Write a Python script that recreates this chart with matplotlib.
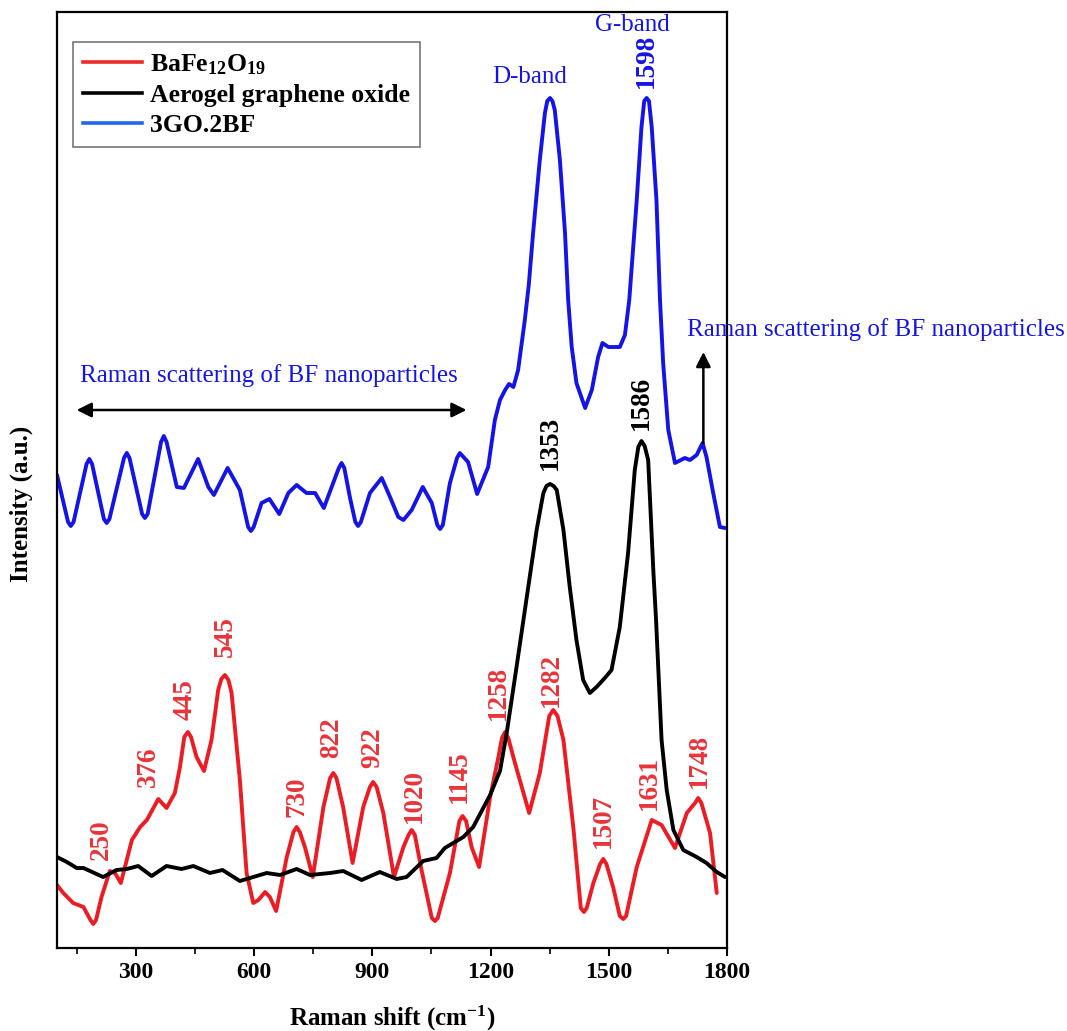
import matplotlib
matplotlib.use("Agg")
import matplotlib.pyplot as plt
from matplotlib.ticker import MultipleLocator

plt.rcParams['font.family'] = ['Liberation Serif', 'DejaVu Serif']
plt.rcParams['mathtext.fontset'] = 'custom'
plt.rcParams['mathtext.rm'] = 'Liberation Serif:bold'
plt.rcParams['mathtext.it'] = 'Liberation Serif:bold'
plt.rcParams['mathtext.bf'] = 'Liberation Serif:bold'

# ---------------- data (Raman shift in cm-1, intensity in a.u.) ----------------
go_bf_x = [100, 128, 135, 142, 175, 182, 189, 219, 226, 233, 270, 277, 284, 316, 323,
           330, 364, 371, 378, 404, 422, 458, 484, 498, 533, 564, 585, 592, 599, 619,
           639, 664, 687, 708, 733, 755, 777, 815, 822, 829, 843, 857, 864, 871, 894,
           924, 945, 966, 979, 1000, 1028, 1051, 1065, 1072, 1079, 1097, 1115, 1122,
           1143, 1166, 1194, 1211, 1224, 1237, 1247, 1258, 1270, 1287, 1297, 1308, 1325,
           1338, 1344, 1351, 1357, 1363, 1376, 1389, 1397, 1406, 1418, 1440, 1457, 1473,
           1484, 1499, 1528, 1541, 1552, 1571, 1583, 1590, 1596, 1602, 1609, 1621, 1630,
           1638, 1651, 1668, 1693, 1706, 1723, 1738, 1748, 1765, 1782, 1795]
go_bf_y = [473, 426, 422, 426, 484, 489, 484, 429, 425, 429, 490, 495, 490, 434, 430,
           434, 506, 512, 506, 461, 460, 489, 461, 453, 480, 458, 421, 417, 421, 445,
           449, 434, 455, 463, 455, 455, 440, 480, 485, 480, 451, 426, 422, 426, 455,
           470, 451, 431, 428, 438, 461, 445, 423, 419, 423, 465, 490, 495,
           486, 454, 481, 528, 548, 558, 564, 561, 578, 628, 663, 715, 788,
           835, 847, 850, 847, 838, 788, 715, 648, 601, 565, 540, 558, 591,
           605, 601, 601, 613, 648, 748, 821, 847, 850, 847, 821, 748, 648,
           585, 518, 485, 490, 488, 493, 505, 491, 455, 421, 420]

go_x = [100, 125, 150, 167, 217, 251, 277, 306, 340, 378, 416, 446, 488, 520, 564,
        598, 632, 666, 708, 742, 793, 826, 873, 919, 962, 987, 1029, 1063, 1084, 1131,
        1156, 1199, 1224, 1241, 1266, 1292, 1317, 1334, 1342, 1351, 1360, 1368, 1385,
        1401, 1418, 1435, 1452, 1469, 1490, 1507, 1528, 1549, 1566, 1575, 1583, 1591,
        1600, 1613, 1620, 1627, 1634, 1647, 1664, 1689, 1723, 1748, 1774, 1795]
go_y = [91, 86, 80, 80, 71, 78, 79, 82, 72, 82, 79, 82, 75, 78, 67,
        71, 75, 73, 79, 73, 75, 77, 68, 76, 69, 71, 87, 90, 100, 111,
        121, 153, 177, 215, 281, 351, 418, 455, 462, 464, 462, 458, 418,
        361, 308, 268, 255, 261, 270, 278, 321, 395, 478, 501, 507, 502,
        488, 378, 328, 268, 208, 158, 118, 98, 91, 85, 76, 71]

bf_x = [100, 116, 141, 167, 185, 192, 199, 213, 234, 247, 262, 290, 311, 328, 357,
        378, 399, 412, 423, 432, 440, 454, 473, 492, 509, 517, 526, 535, 543, 564,
        581, 598, 611, 628, 640, 656, 683, 700, 708, 716, 729, 749, 776, 793, 801,
        809, 826, 850, 877, 894, 902, 911, 928, 955, 979, 992, 1000, 1008, 1025,
        1051, 1059, 1066, 1097, 1121, 1129, 1138, 1152, 1171, 1199, 1220, 1229, 1237,
        1245, 1262, 1298, 1325, 1349, 1359, 1370, 1385, 1410, 1429, 1437, 1444, 1461,
        1478, 1486, 1494, 1511, 1528, 1537, 1544, 1571, 1609, 1634, 1668, 1698, 1719,
        1727, 1735, 1757, 1774]
bf_y = [63, 55, 45, 41, 28, 24, 28, 51, 77, 75, 65, 108, 121, 128, 149,
        140, 155, 181, 211, 216, 211, 191, 177, 208, 258, 269, 273, 268, 255, 168,
        75, 45, 48, 56, 51, 37, 91, 116, 121, 116, 101, 71, 141, 170, 175,
        170, 141, 85, 141, 161, 166, 161, 135, 71, 101, 113, 118, 113, 78,
        30, 27, 30, 75, 127, 132, 127, 101, 81, 151, 191, 210, 216,
        210, 185, 135, 175, 232, 238, 232, 208, 121, 40, 36, 40, 65,
        84, 89, 84, 61, 32, 29, 32, 81, 128, 123, 100, 135, 145,
        150, 145, 115, 55]

series_names = [r'BaFe$_{12}$O$_{19}$', 'Aerogel graphene oxide', '3GO.2BF']

bf_peak_labels = ['250', '376', '445', '545', '730', '822', '922', '1020', '1145',
                  '1258', '1282', '1507', '1631', '1748']
bf_label_x = [213, 332, 425, 526, 708, 797, 902, 1008, 1122, 1220, 1355, 1486, 1604, 1731]
bf_label_y = [88, 161, 228, 291, 131, 190, 180, 125, 145, 228, 241, 100, 138, 160]

go_peak_labels = ['1353', '1586']
go_label_x = [1351, 1583]
go_label_y = [478, 518]

# ---------------- figure ----------------
fig = plt.figure(figsize=(10.67, 10.31), dpi=100)
ax = fig.add_axes([57 / 1067, 83 / 1031, 670 / 1067, 936 / 1031])

red = '#ec1c24'
blue = '#1414e6'
lw = 2.8

ax.plot(bf_x, bf_y, color=red, lw=lw, solid_joinstyle='round', solid_capstyle='round')
ax.plot(go_x, go_y, color='black', lw=lw, solid_joinstyle='round', solid_capstyle='round')
ax.plot(go_bf_x, go_bf_y, color=blue, lw=lw, solid_joinstyle='round', solid_capstyle='round')

ax.set_xlim(100, 1800)
ax.set_ylim(0, 936)

# peak labels
for t, x, y in zip(bf_peak_labels, bf_label_x, bf_label_y):
    ax.text(x, y, t, rotation=90, ha='center', va='bottom', color='#e8343a',
            fontsize=19.5, fontweight='bold')
for t, x, y in zip(go_peak_labels, go_label_x, go_label_y):
    ax.text(x, y, t, rotation=90, ha='center', va='bottom', color='black',
            fontsize=19.5, fontweight='bold')
ax.text(1596, 860, '1598', rotation=90, ha='center', va='bottom', color=blue,
        fontsize=19.5, fontweight='bold')

ax.text(1300, 871, 'D-band', ha='center', va='center', color=blue, fontsize=18)
ax.text(1559, 923, 'G-band', ha='center', va='center', color=blue, fontsize=18)

ax.text(158, 572, 'Raman scattering of BF nanoparticles', ha='left', va='center',
        color=blue, fontsize=18)
ax.text(1698, 618, 'Raman scattering of BF nanoparticles', ha='left', va='center',
        color=blue, fontsize=18, clip_on=False)

ax.annotate('', xy=(150, 538), xytext=(1139, 538),
            arrowprops=dict(arrowstyle='<|-|>', color='black', lw=1.8,
                            mutation_scale=22, shrinkA=0, shrinkB=0))
ax.annotate('', xy=(1740, 596), xytext=(1740, 505),
            arrowprops=dict(arrowstyle='-|>', color='black', lw=1.8,
                            mutation_scale=22, shrinkA=0, shrinkB=0))

# axes style
ax.xaxis.set_minor_locator(MultipleLocator(150))
ax.set_xticks([300, 600, 900, 1200, 1500, 1800])
ax.tick_params(axis='x', which='major', direction='out', length=6, width=1.5,
               labelsize=17, pad=4)
ax.tick_params(axis='x', which='minor', direction='out', length=4, width=1.2)
ax.set_yticks([])
for lab in ax.get_xticklabels():
    lab.set_fontweight('bold')
for s in ax.spines.values():
    s.set_linewidth(1.6)
    s.set_color('black')

ax.set_xlabel(r'Raman shift (cm$^{-1}$)', fontsize=18, fontweight='bold', labelpad=15)
ax.set_ylabel('Intensity (a.u.)', fontsize=18, fontweight='bold')
ax.yaxis.set_label_coords(-0.036, 0.475)

leg_handles = [plt.Line2D([], [], color='#ee2a2a', lw=2.6),
               plt.Line2D([], [], color='black', lw=2.6),
               plt.Line2D([], [], color='#2266ee', lw=2.6)]
leg = ax.legend(leg_handles, series_names, loc='upper left',
                bbox_to_anchor=(0.024, 0.968), prop={'weight': 'bold', 'size': 18.5},
                frameon=True, fancybox=False, edgecolor='#555555',
                handlelength=2.3, handletextpad=0.3, labelspacing=0.28,
                borderpad=0.4, borderaxespad=0)
leg.get_frame().set_linewidth(1.2)

fig.savefig('out.png', dpi=100)
